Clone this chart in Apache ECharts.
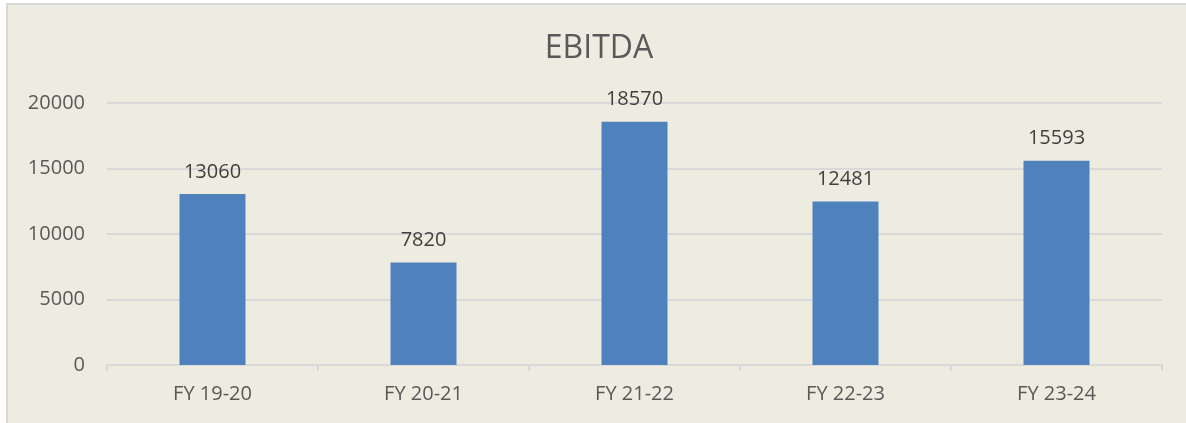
<!DOCTYPE html>
<html>
<head>
<meta charset="utf-8">
<script src="https://cdn.jsdelivr.net/npm/echarts@6/dist/echarts.min.js"></script>
<style>
html,body{margin:0;padding:0;background:#ffffff;}
#bg{position:absolute;left:6px;top:3px;width:1180px;height:420px;background:#EEEBE0;border-top:2px solid #D9D9D9;border-left:2px solid #D9D9D9;box-sizing:border-box;}
#chart{position:absolute;left:0;top:0;width:1186px;height:423px;}
</style>
</head>
<body>
<div id="bg"></div>
<div id="chart"></div>
<script>
const title = 'EBITDA';
const categories = ['FY 19-20', 'FY 20-21', 'FY 21-22', 'FY 22-23', 'FY 23-24'];
const values = [13060, 7820, 18570, 12481, 15593];
const yTicks = { min: 0, max: 20000, interval: 5000 };

const chart = echarts.init(document.getElementById('chart'), null, { renderer: 'canvas' });
const font = '"Open Sans", sans-serif';
chart.setOption({
  animation: false,
  backgroundColor: 'transparent',
  title: {
    text: title,
    left: 594,
    textAlign: 'center',
    top: 28,
    textStyle: { fontFamily: font, fontSize: 32, fontWeight: 'normal', color: '#595959' }
  },
  grid: { left: 107, right: 24, top: 103, bottom: 58, containLabel: false },
  xAxis: {
    type: 'category',
    data: categories,
    axisLine: { lineStyle: { color: '#D9D9D9', width: 2 } },
    axisTick: { show: true, length: 6, lineStyle: { color: '#D9D9D9', width: 2 } },
    axisLabel: { fontFamily: font, fontSize: 20, color: '#595959', margin: 19 }
  },
  yAxis: {
    type: 'value',
    min: yTicks.min, max: yTicks.max, interval: yTicks.interval,
    axisLine: { show: false },
    axisTick: { show: false },
    splitLine: { lineStyle: { color: '#D9D9D9', width: 2 } },
    axisLabel: { fontFamily: font, fontSize: 20, color: '#595959', margin: 22, formatter: v => String(v) }
  },
  series: [{
    type: 'bar',
    data: values,
    barWidth: 66,
    itemStyle: { color: '#4F81BD' },
    label: {
      show: true,
      position: 'top',
      distance: 12,
      fontFamily: font,
      fontSize: 20,
      color: '#404040'
    }
  }]
});
</script>
</body>
</html>
